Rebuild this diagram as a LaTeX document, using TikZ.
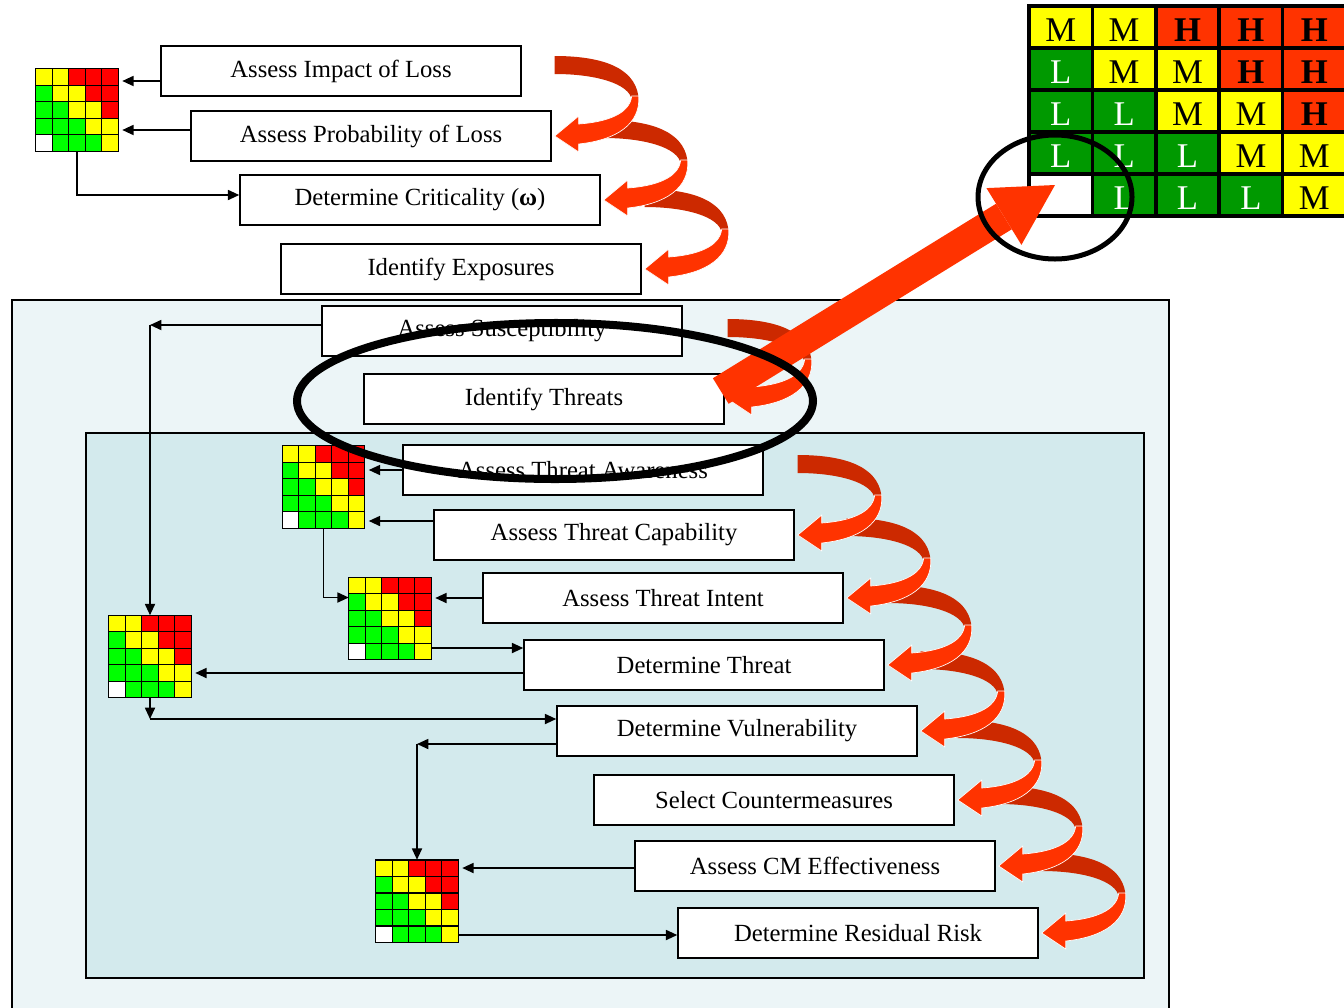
\documentclass[tikz,border=0pt]{standalone}
\usepackage{fontspec}
\setmainfont{Liberation Serif}
\usetikzlibrary{arrows.meta,calc}

\definecolor{panelouter}{HTML}{ECF5F7}
\definecolor{panelinner}{HTML}{D3EAED}
\definecolor{cellred}{HTML}{FF0000}
\definecolor{cellyellow}{HTML}{FFFF00}
\definecolor{cellgreen}{HTML}{00FF00}
\definecolor{riskH}{HTML}{FF3300}
\definecolor{riskM}{HTML}{FFFF00}
\definecolor{riskL}{HTML}{009900}
\definecolor{swirlbackcol}{HTML}{CC2900}
\definecolor{swirlfrontcol}{HTML}{FF3300}

\tikzset{
  stepbox/.style={draw=black, line width=1.1pt, fill=white,
    minimum width=270pt, minimum height=37.5pt, inner sep=0pt,
    font=\fontsize{18.5}{20}\selectfont},
  gridframe/.style={minimum width=61.875pt, minimum height=61.875pt,
    inner sep=0pt, outer sep=0pt},
  gridline/.style={draw=black, line width=1.1pt, line cap=rect},
  conn/.style={draw=black, line width=1.3pt,
    -{Triangle[length=8.5pt,width=7.5pt]}},
  gapconn/.style={conn, shorten >=3pt},
  risklabel/.style={inner sep=0pt, font=\fontsize{26}{28}\selectfont},
}

% 5x5 colour grid: #1 node name, #2 centre
\newcommand{\riskgrid}[2]{%
  \node[gridframe] (#1) at (#2) {};
  \begin{scope}[shift={(#1.north west)}]
    \foreach \r in {0,...,4}{
      \foreach \c in {0,...,4}{
        \pgfmathtruncatemacro\dd{\c-\r}
        \ifnum\dd>1 \def\cellcol{cellred}\else\ifnum\dd<0 \def\cellcol{cellgreen}\else\def\cellcol{cellyellow}\fi\fi
        \ifnum\r=4 \ifnum\c=0 \def\cellcol{white}\fi\fi
        \fill[\cellcol] (\c*16.5,\r*16.5) rectangle ++(16.5,16.5);
      }
    }
    \foreach \k in {0,...,5}{
      \draw[gridline] (\k*16.5,0) -- (\k*16.5,82.5);
      \draw[gridline] (0,\k*16.5) -- (82.5,\k*16.5);
    }
  \end{scope}
}

% curved step arrow, anchored at its tip
\newcommand{\swirlback}[1]{%
  \fill[swirlbackcol, shift={(#1)}] (0,-80) .. controls (52,-80) and (84,-66) .. (84,-34)
    -- (77,-36) .. controls (75,-52) and (42,-62) .. (0,-62) -- cycle;}
\newcommand{\swirlfront}[1]{%
  \filldraw[fill=swirlfrontcol, draw=white, line width=0.5pt, shift={(#1)}]
    (84,-40) .. controls (86,-12) and (62,4) .. (24,8) -- (24,16) -- (0,0)
    -- (24,-20) -- (24,-12) .. controls (52,-14) and (75,-22) .. (77,-40) -- cycle;}

\begin{document}
\begin{tikzpicture}[x=0.75pt, y=-0.75pt]
\useasboundingbox (0,0) rectangle (1344,1007);
\fill[white] (0,0) rectangle (1344,1007);

% panels
\draw[line width=0.9pt, fill=panelouter] (12,300) rectangle (1169,1015);
\draw[line width=1.2pt, fill=panelinner] (86,433) rectangle (1144,978);

% process steps
\node[stepbox] (b1) at (341,71) {Assess Impact of Loss};
\node[stepbox] (b2) at (371,136) {Assess Probability of Loss};
\node[stepbox] (b3) at (420,200) {Determine Criticality ({\bfseries ω})};
\node[stepbox] (b4) at (461,269) {Identify Exposures};
\node[stepbox] (b5) at (502,331) {Assess Susceptibility};
\node[stepbox] (b6) at (544,399) {Identify Threats};
\node[stepbox] (b7) at (583,470) {Assess Threat Awareness};
\node[stepbox] (b8) at (614,535) {Assess Threat Capability};
\node[stepbox] (b9) at (663,598) {Assess Threat Intent};
\node[stepbox] (b10) at (704,665) {Determine Threat};
\node[stepbox] (b11) at (737,731) {Determine Vulnerability};
\node[stepbox] (b12) at (774,800) {Select Countermeasures};
\node[stepbox] (b13) at (815,866) {Assess CM Effectiveness};
\node[stepbox] (b14) at (858,933) {Determine Residual Risk};

% colour grids
\riskgrid{mA}{77,110}
\riskgrid{mB}{323.5,487}
\riskgrid{mC}{390,618.5}
\riskgrid{mD}{150,656.5}
\riskgrid{mE}{417,901}

% connectors
\coordinate (c1) at ($(b1.west)+(0,10)$);
\draw[gapconn] (c1) -- (c1 -| mA.east);
\coordinate (c2) at ($(b2.west)+(0,-6)$);
\draw[gapconn] (c2) -- (c2 -| mA.east);
\draw[conn] (mA.south) |- ($(b3.west)+(0,-5)$);

\coordinate (c5) at ($(b5.west)+(0,-6)$);
\coordinate (c5turn) at (c5 -| mD.north);
\draw[conn] (c5) -- (c5turn);
\draw[conn] (c5turn) -- (mD.north);

\draw[gapconn] (b7.west) -- (b7.west -| mB.east);
\coordinate (c8) at ($(b8.west)+(0,-14)$);
\draw[gapconn] (c8) -- (c8 -| mB.east);
\coordinate (c9) at ($(mC.west)+(0,-21)$);
\draw[conn] (mB.south) |- (c9);
\draw[gapconn] (b9.west) -- (b9.west -| mC.east);
\coordinate (c10) at ($(b10.west)+(0,-17)$);
\draw[conn] (c10 -| mC.east) -- (c10);
\coordinate (c10b) at ($(b10.west)+(0,8)$);
\draw[gapconn] (c10b) -- (c10b -| mD.east);

\coordinate (c11) at ($(b11.west)+(0,-12)$);
\coordinate (c11turn) at (c11 -| mD.south);
\draw[conn] (mD.south) -- (c11turn);
\draw[conn] (c11turn) -- (c11);
\coordinate (c11b) at ($(b11.west)+(0,13)$);
\coordinate (c11bturn) at (c11b -| mE.north);
\draw[conn] (c11b) -- (c11bturn);
\draw[conn] (c11bturn) -- (mE.north);

\coordinate (c13) at ($(b13.west)+(0,2)$);
\draw[gapconn] (c13) -- (c13 -| mE.east);
\coordinate (c14) at ($(b14.west)+(0,2)$);
\draw[conn] (c14 -| mE.east) -- (c14);

% curved step arrows
\foreach \b in {b2,b3,b4,b6,b8,b9,b10,b11,b12,b13,b14}{\swirlback{[xshift=2.25pt]\b.east}}
\foreach \b in {b2,b3,b4,b6,b8,b9,b10,b11,b12,b13,b14}{\swirlfront{[xshift=2.25pt]\b.east}}

% risk rating matrix
\node[minimum width=237.75pt, minimum height=157.5pt, inner sep=0pt, outer sep=0pt] (riskmatrix) at (1187.5,111) {};
\begin{scope}[shift={(riskmatrix.north west)}]
  \foreach \r in {0,...,4}{
    \foreach \c in {0,...,4}{
      \pgfmathtruncatemacro\dd{\c-\r}
      \ifnum\dd>1 \def\cellcol{riskH}\def\lbl{\bfseries H}\def\lblcol{black}%
      \else\ifnum\dd<0 \def\cellcol{riskL}\def\lbl{L}\def\lblcol{white}%
      \else\def\cellcol{riskM}\def\lbl{M}\def\lblcol{black}\fi\fi
      \ifnum\r=4 \ifnum\c=0 \def\cellcol{white}\def\lbl{}\fi\fi
      \fill[\cellcol] (\c*63.4,\r*42) rectangle ++(63.4,42);
      \node[risklabel, text=\lblcol] (cell-\r-\c) at (\c*63.4+31.7,\r*42+24) {\lbl};
    }
  }
  \foreach \k in {0,...,5}{
    \draw[line width=2.6pt, line cap=rect] (\k*63.4,0) -- (\k*63.4,210);
    \draw[line width=2.6pt, line cap=rect] (0,\k*42) -- (317,\k*42);
  }
\end{scope}

% Identify Threats -> rating
\coordinate (threatout) at ($(b6.east)+(-4,-8)$);
\coordinate (blankcell) at ($(riskmatrix.south west)+(26,-31)$);
\draw[draw=riskH, line width=22.5pt,
  -{Triangle[length=45pt,width=50pt,line width=0pt]}] (threatout) -- (blankcell);

% highlight rings
\draw[line width=6pt] (555,401) ellipse [x radius=193.5pt, y radius=58.5pt];
\draw[line width=3.75pt] (1055,197) ellipse [x radius=57.75pt, y radius=46.5pt];
\end{tikzpicture}
\end{document}
